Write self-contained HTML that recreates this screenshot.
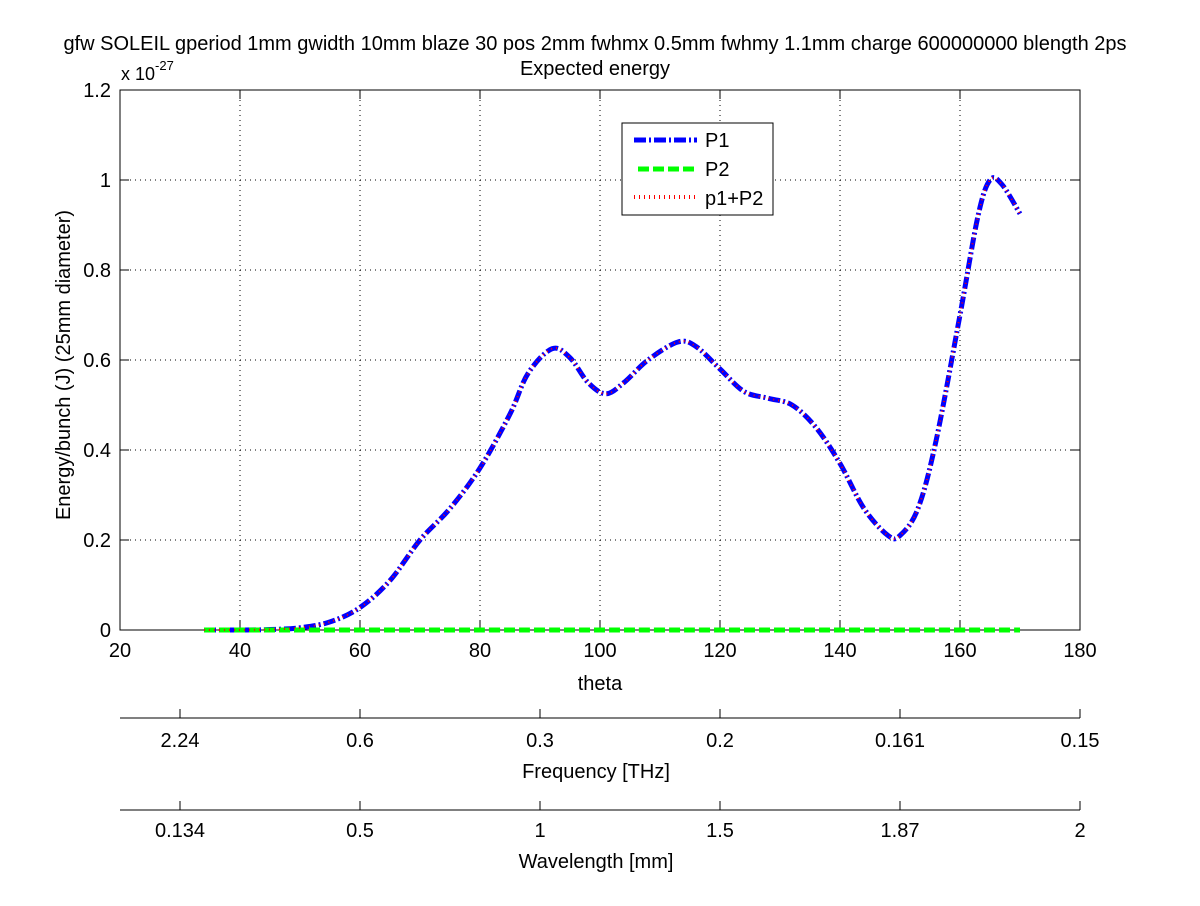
<!DOCTYPE html>
<html><head><meta charset="utf-8"><style>
body{margin:0;background:#fff}
svg text{font-family:"Liberation Sans",sans-serif;fill:#000}
</style></head><body>
<svg width="1200" height="901" viewBox="0 0 1200 901">
<rect width="1200" height="901" fill="#fff"/>
<g id="grid"></g>
<rect x="120" y="90" width="960" height="540" fill="none" stroke="#000"/>
<g id="axes"></g>
<g id="series"></g>
<text x="595" y="50" font-size="20" text-anchor="middle">gfw SOLEIL gperiod 1mm gwidth 10mm blaze 30 pos 2mm fwhmx 0.5mm fwhmy 1.1mm charge 600000000 blength 2ps</text>
<text x="595" y="75" font-size="20" text-anchor="middle">Expected energy</text>
<text x="121" y="80" font-size="18">x 10<tspan dy="-10" font-size="13">-27</tspan></text>
<text transform="translate(70,365) rotate(-90)" font-size="20" text-anchor="middle">Energy/bunch (J) (25mm diameter)</text>
<text x="600" y="690" font-size="20" text-anchor="middle">theta</text>
<text x="596" y="778" font-size="20" text-anchor="middle">Frequency [THz]</text>
<text x="596" y="868" font-size="20" text-anchor="middle">Wavelength [mm]</text>
<g>
<rect x="622" y="123" width="151" height="92" fill="#fff" stroke="#000"/>
<line x1="634" y1="140" x2="697" y2="140" stroke="#00f" stroke-width="5" stroke-dasharray="12,3,2,3"/>
<text x="705" y="147" font-size="20">P1</text>
<line x1="638" y1="169" x2="697" y2="169" stroke="#0f0" stroke-width="5" stroke-dasharray="11,4"/>
<text x="705" y="176" font-size="20">P2</text>
<line x1="634" y1="197" x2="697" y2="197" stroke="#f00" stroke-width="4" stroke-dasharray="1,4"/>
<text x="705" y="205" font-size="20">p1+P2</text>
</g>
</svg>
<script>
const xTicks=[20,40,60,80,100,120,140,160,180];
const yTicks=[0,0.2,0.4,0.6,0.8,1,1.2];
const yTickLabels=["0","0.2","0.4","0.6","0.8","1","1.2"];
const freqLabels=["2.24","0.6","0.3","0.2","0.161","0.15"];
const waveLabels=["0.134","0.5","1","1.5","1.87","2"];
const thetas=[34,40,45,50,55,60,65,70,75,80,85,88,92,95,98,101,104,108,113,116,120,124,128,132,136,140,144,148,150,153,156,160,163,165,167,170];
const p1=[0,0,0.001,0.005,0.018,0.05,0.11,0.2,0.27,0.36,0.48,0.57,0.625,0.605,0.55,0.525,0.55,0.6,0.64,0.63,0.58,0.53,0.515,0.5,0.45,0.37,0.27,0.21,0.21,0.27,0.42,0.7,0.92,1.0,0.99,0.925];
const p2=thetas.map(()=>0);
const xs=t=>120+(t-20)*6, ys=v=>630-v*450;
const NS="http://www.w3.org/2000/svg";
function mk(tag,attrs,parent,name){const e=document.createElementNS(NS,tag);for(const k in attrs)e.setAttribute(k,attrs[k]);


document.getElementById(parent).appendChild(e);return e;}
xTicks.forEach(t=>{const x=xs(t);
if(t>20&&t<180)mk('line',{x1:x,y1:90,x2:x,y2:630,stroke:'#000','stroke-dasharray':'1,4'},'grid','x-grid-line');
mk('line',{x1:x,y1:630,x2:x,y2:621,stroke:'#000'},'axes','x-tick');
mk('line',{x1:x,y1:90,x2:x,y2:99,stroke:'#000'},'axes','x-tick-top');
const tx=mk('text',{x:x,y:657,'font-size':20,'text-anchor':'middle'},'axes','x-tick-label');tx.textContent=t;});
yTicks.forEach((v,i)=>{const y=ys(v);
if(v>0&&v<1.2)mk('line',{x1:120,y1:y,x2:1080,y2:y,stroke:'#000','stroke-dasharray':'1,4'},'grid','y-grid-line');
mk('line',{x1:120,y1:y,x2:129,y2:y,stroke:'#000'},'axes','y-tick');
mk('line',{x1:1071,y1:y,x2:1080,y2:y,stroke:'#000'},'axes','y-tick-right');
const tx=mk('text',{x:111,y:y+7,'font-size':20,'text-anchor':'end'},'axes','y-tick-label');tx.textContent=yTickLabels[i];});
[[718,747,freqLabels,'frequency'],[810,837,waveLabels,'wavelength']].forEach(([ly,ty,labs,nm])=>{
mk('line',{x1:120,y1:ly,x2:1080,y2:ly,stroke:'#000'},'axes',nm+'-axis-line');
labs.forEach((l,i)=>{const x=180+i*180;
mk('line',{x1:x,y1:ly,x2:x,y2:ly-9,stroke:'#000'},'axes',nm+'-tick');
const tx=mk('text',{x:x,y:ty,'font-size':20,'text-anchor':'middle'},'axes',nm+'-tick-label');tx.textContent=l;});});
function path(vals){const P=thetas.map((t,i)=>[xs(t),ys(vals[i])]);let d='M'+P[0][0]+','+P[0][1];
for(let i=0;i<P.length-1;i++){const p0=P[Math.max(i-1,0)],p1_=P[i],p2_=P[i+1],p3=P[Math.min(i+2,P.length-1)];
d+=' C'+(p1_[0]+(p2_[0]-p0[0])/6)+','+(p1_[1]+(p2_[1]-p0[1])/6)+' '+(p2_[0]-(p3[0]-p1_[0])/6)+','+(p2_[1]-(p3[1]-p1_[1])/6)+' '+p2_[0]+','+p2_[1];}return d;}
mk('path',{d:path(p1),fill:'none',stroke:'#00f','stroke-width':5,'stroke-dasharray':'12,3,2,3'},'series','p1-line');
mk('path',{d:path(p2),fill:'none',stroke:'#0f0','stroke-width':5,'stroke-dasharray':'11,4'},'series','p2-line');
const sum=p1.map((v,i)=>v+p2[i]);
mk('path',{d:path(sum),fill:'none',stroke:'#f00','stroke-width':2,'stroke-dasharray':'1,4'},'series','p1p2-line');
</script>
</body></html>
